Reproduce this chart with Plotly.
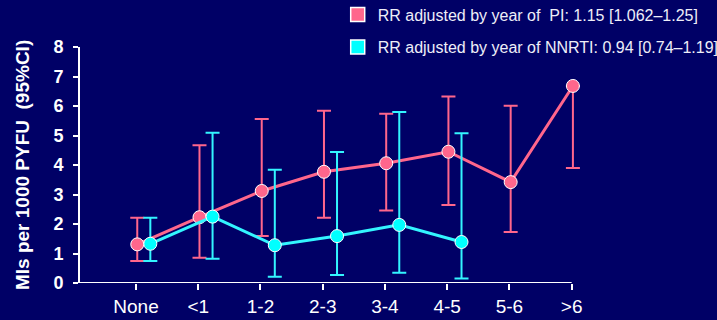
import plotly.graph_objects as go

categories = ["None", "<1", "1-2", "2-3", "3-4", "4-5", "5-6", ">6"]

pi_rate = [1.31, 2.23, 3.12, 3.77, 4.06, 4.45, 3.42, 6.68]
pi_low = [0.75, 0.86, 1.59, 2.21, 2.46, 2.64, 1.73, 3.90]
pi_high = [2.21, 4.67, 5.56, 5.84, 5.74, 6.32, 6.01, 6.68]

nn_rate = [1.33, 2.25, 1.28, 1.59, 1.97, 1.39]
nn_low = [0.75, 0.82, 0.21, 0.27, 0.35, 0.15]
nn_high = [2.21, 5.09, 3.84, 4.44, 5.80, 5.08]

y_ticks = [0, 1, 2, 3, 4, 5, 6, 7, 8]

pi_label = "RR adjusted by year of  PI: 1.15 [1.062\u20131.25]"
nn_label = "RR adjusted by year of NNRTI: 0.94 [0.74\u20131.19]"

BG = "#000066"
PINK = "#ff668c"
CYAN = "#33f5ff"
CYAN_M = "#00ffff"
FONT = "Liberation Sans, Arial, sans-serif"

pi_x = [i + 0.02 for i in range(len(pi_rate))]
nn_x = [i + 0.23 for i in range(len(nn_rate))]

n_cat = len(categories)
x_lo, x_hi = -0.9, n_cat - 1 + 0.15
step_px = 62.29
plot_w = (x_hi - x_lo) * step_px
left_m = 80
right_m = 717 - left_m - plot_w

fig = go.Figure()

fig.add_trace(go.Scatter(
    x=pi_x, y=pi_rate, mode="lines+markers", showlegend=False, cliponaxis=False,
    line=dict(color=PINK, width=3),
    marker=dict(size=13, color=PINK, line=dict(color="white", width=1)),
    error_y=dict(type="data", symmetric=False,
                 array=[h - r for h, r in zip(pi_high, pi_rate)],
                 arrayminus=[r - l for r, l in zip(pi_rate, pi_low)],
                 color=PINK, thickness=2, width=7),
))
fig.add_trace(go.Scatter(
    x=nn_x, y=nn_rate, mode="lines+markers", showlegend=False, cliponaxis=False,
    line=dict(color=CYAN, width=3),
    marker=dict(size=13, color=CYAN_M, line=dict(color="white", width=1)),
    error_y=dict(type="data", symmetric=False,
                 array=[h - r for h, r in zip(nn_high, nn_rate)],
                 arrayminus=[r - l for r, l in zip(nn_rate, nn_low)],
                 color=CYAN, thickness=2, width=7),
))

# legend entries
fig.add_trace(go.Scatter(x=[None], y=[None], mode="markers", name=pi_label,
                         marker=dict(symbol="square", size=14, color=PINK,
                                     line=dict(color="white", width=1.5)),
                         legend="legend"))
fig.add_trace(go.Scatter(x=[None], y=[None], mode="markers", name=nn_label,
                         marker=dict(symbol="square", size=14, color=CYAN_M,
                                     line=dict(color="white", width=1.5)),
                         legend="legend2"))

leg_common = dict(bgcolor="rgba(0,0,0,0)", borderwidth=0,
                  font=dict(family=FONT, size=16, color="#eeeef8"),
                  xref="container", yref="container", xanchor="left", yanchor="middle")

fig.update_layout(
    width=717, height=320,
    paper_bgcolor=BG, plot_bgcolor=BG,
    margin=dict(l=left_m, r=right_m, t=47, b=37, autoexpand=False),
    font=dict(family=FONT, color="white"),
    legend=dict(x=0.471, y=1 - 14.5 / 320, **leg_common),
    legend2=dict(x=0.471, y=1 - 47 / 320, **leg_common),
    xaxis=dict(range=[x_lo, x_hi], tickmode="array", tickvals=list(range(n_cat)),
               ticktext=categories, showline=False,
               ticks="outside", ticklen=6, tickwidth=2, tickcolor="white",
               showgrid=False, zeroline=False,
               tickfont=dict(family=FONT, size=19, color="white")),
    yaxis=dict(range=[0, 8], tickmode="array", tickvals=y_ticks,
               ticktext=[str(v) for v in y_ticks],
               showline=True, linecolor="white", linewidth=2,
               ticks="outside", ticklen=5, tickwidth=2, tickcolor="white",
               showgrid=False, zeroline=False, ticklabelstandoff=6,
               tickfont=dict(family=FONT, size=18, color="white", weight="bold")),
    shapes=[dict(type="line", xref="x", yref="y", x0=x_lo, x1=n_cat - 1, y0=0, y1=0,
                 line=dict(color="white", width=2), layer="below")],
    annotations=[dict(text="<b>MIs per 1000 PYFU \u00a0(95%CI)</b>", textangle=-90,
                      xref="paper", yref="paper", x=(22 - left_m) / plot_w, y=0.5,
                      xanchor="center", yanchor="middle", showarrow=False,
                      font=dict(family=FONT, size=19, color="white"))],
)

fig.write_html("out.html", config={"displayModeBar": False},
               post_script="document.body.style.margin='0';document.body.style.background='" + BG + "';")
